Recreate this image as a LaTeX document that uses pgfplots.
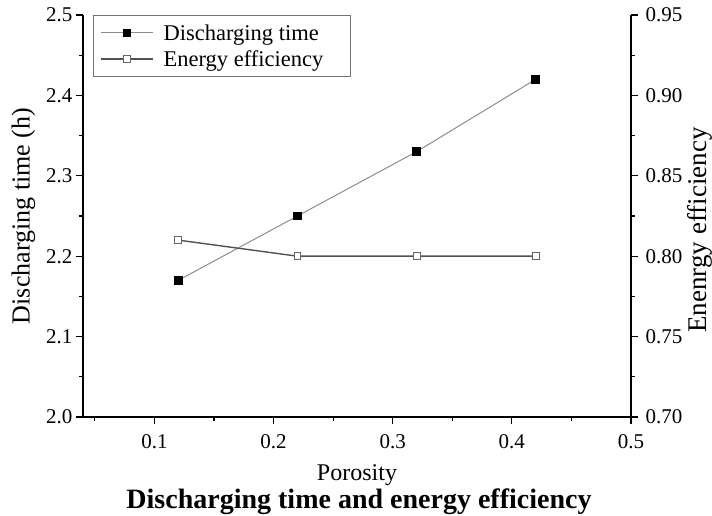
\documentclass[border=0pt]{standalone}
\usepackage{pgfplots}
\pgfplotsset{compat=1.18}
\usepackage{fontspec}
\setmainfont{Liberation Serif}
\begin{document}
\begin{tikzpicture}
\path[use as bounding box] (-83bp,-99bp) rectangle (629bp,417bp);
\pgfplotsset{
  dt/.style={color=black!45, line width=1bp, mark=square*, mark size=3.8bp, mark options={fill=black, draw=black, solid}},
  ee/.style={color=black!68, line width=1.4bp, mark=square*, mark size=3.4bp, mark options={fill=white, draw=black!60, line width=0.9bp, solid}},
  common/.style={
    scale only axis, width=548bp, height=402bp,
    at={(0,0)}, anchor=south west,
    xmin=0.04, xmax=0.5,
    tick align=outside,
    major tick length=7bp, minor tick length=4bp,
    every tick/.style={black, line width=1.1bp},
    axis line style={black, line width=1.3bp},
    /pgf/number format/assume math mode=true,
    tick label style={font=\fontsize{21bp}{25bp}\selectfont},
    label style={font=\fontsize{26bp}{30bp}\selectfont},
  }
}
\begin{axis}[
  common,
  name=main,
  ymin=2.0, ymax=2.5,
  axis x line*=bottom, axis y line*=left,
  xtick={0.1,0.2,0.3,0.4,0.5},
  minor xtick={0.05,0.15,0.25,0.35,0.45},
  ytick={2.0,2.1,2.2,2.3,2.4,2.5},
  minor ytick={2.05,2.15,2.25,2.35,2.45},
  xticklabel style={yshift=-7bp, /pgf/number format/.cd, fixed, precision=1},
  yticklabel style={/pgf/number format/.cd, fixed, fixed zerofill, precision=1},
  xlabel={Porosity},
  xlabel style={font=\fontsize{24bp}{28bp}\selectfont, at={(axis description cs:0.5,-0.157)}, anchor=base},
  ylabel={Discharging time (h)},
  ylabel style={at={(axis description cs:-0.1086,0.5)}, anchor=center},
  legend style={at={(axis description cs:0.018,1)}, anchor=north west,
    draw=black!55, line width=0.8bp, font=\fontsize{22.5bp}{26bp}\selectfont,
    inner xsep=3bp, inner ysep=7bp, row sep=5bp},
  legend cell align=left,
  legend image code/.code={\draw[#1, mark repeat=2, mark phase=2] plot coordinates {(4bp,0bp) (30bp,0bp) (56bp,0bp)}; \path (0bp,0bp) (64bp,0bp);},
]
\addplot[dt] coordinates {(0.12,2.17) (0.22,2.25) (0.32,2.33) (0.42,2.42)};
\addlegendentry{Discharging time\rule{22bp}{0bp}}
\addlegendimage{ee}
\addlegendentry{Energy efficiency\rule{22bp}{0bp}}
\end{axis}
\begin{axis}[
  common,
  ymin=0.70, ymax=0.95,
  axis x line=none, axis y line*=right,
  ytick={0.70,0.75,0.80,0.85,0.90,0.95},
  minor ytick={0.725,0.775,0.825,0.875,0.925},
  yticklabel style={xshift=4bp, /pgf/number format/.cd, fixed, fixed zerofill, precision=2},
  ylabel={Enenrgy efficiency},
  ylabel style={font=\fontsize{27bp}{31bp}\selectfont, at={(axis description cs:1.126,0.465)}, anchor=center, rotate=0},
]
\addplot[ee] coordinates {(0.12,0.81) (0.22,0.80) (0.32,0.80) (0.42,0.80)};
\end{axis}
\path (main.south west) ++(276bp,-91bp) node[anchor=base, font=\bfseries\fontsize{28bp}{32bp}\selectfont] {Discharging time and energy efficiency};
\end{tikzpicture}
\end{document}
